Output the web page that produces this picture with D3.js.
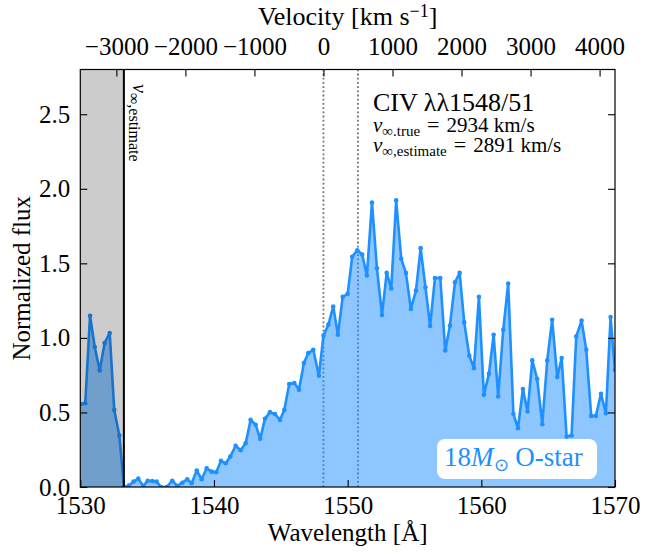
<!DOCTYPE html>
<html>
<head>
<meta charset="utf-8">
<script src="https://cdn.jsdelivr.net/npm/d3@7"></script>
<style>
body { margin: 0; background: #fff; }
svg text { font-family: "Liberation Serif", "Times New Roman", serif; }
</style>
</head>
<body>
<div id="chart"></div>
<script>
// spectrum
var wavelength = [
    1530.03, 1530.37, 1530.73, 1531.08, 1531.45, 1531.82, 1532.20, 1532.54, 1532.92, 1533.27,
    1533.64, 1533.98, 1534.34, 1534.71, 1535.04, 1535.39, 1535.71, 1536.04, 1536.46, 1536.88,
    1537.26, 1537.63, 1538.00, 1538.33, 1538.71, 1539.08, 1539.45, 1539.83, 1540.17, 1540.52,
    1540.88, 1541.22, 1541.62, 1542.00, 1542.37, 1542.74, 1543.12, 1543.46, 1543.81, 1544.19,
    1544.56, 1544.94, 1545.26, 1545.63, 1546.01, 1546.36, 1546.73, 1547.05, 1547.43, 1547.85,
    1548.19, 1548.56, 1548.92, 1549.27, 1549.63, 1550.00, 1550.34, 1550.72, 1551.09, 1551.44,
    1551.82, 1552.19, 1552.57, 1552.92, 1553.26, 1553.63, 1554.01, 1554.36, 1554.73, 1555.11,
    1555.46, 1555.82, 1556.17, 1556.53, 1556.93, 1557.30, 1557.65, 1558.03, 1558.38, 1558.72,
    1559.10, 1559.45, 1559.82, 1560.19, 1560.57, 1560.92, 1561.26, 1561.64, 1562.01, 1562.40,
    1562.74, 1563.11, 1563.46, 1563.81, 1564.18, 1564.56, 1564.93, 1565.30, 1565.68, 1566.01,
    1566.38, 1566.75, 1567.10, 1567.50, 1567.85, 1568.22, 1568.57, 1568.95, 1569.32, 1569.67,
    1569.99
];
var flux = [
    0.556, 0.562, 1.149, 0.939, 0.782, 0.966, 1.033, 0.517, 0.345, 0.0,
    0.01, 0.036, 0.056, 0.007, 0.042, 0.04, 0.036, 0.0, 0.0, 0.042,
    0.007, 0.029, 0.052, 0.025, 0.11, 0.052, 0.126, 0.103, 0.099, 0.175,
    0.159, 0.204, 0.276, 0.247, 0.294, 0.45, 0.417, 0.323, 0.457, 0.502,
    0.49, 0.45, 0.517, 0.69, 0.697, 0.652, 0.831, 0.898, 0.92, 0.746,
    1.015, 1.089, 1.21, 1.021, 1.275, 1.295, 1.544, 1.588, 1.559, 1.418,
    1.907, 1.467, 1.154, 1.436, 1.331, 1.922, 1.53, 1.436, 1.194, 1.317,
    1.602, 1.34, 1.08, 1.402, 1.402, 0.916, 1.082, 1.373, 1.436, 1.104,
    0.88, 0.797, 1.275, 0.618, 0.759, 1.021, 0.607, 1.055, 1.364, 0.49,
    0.394, 0.657, 0.506, 0.849, 0.724, 0.421, 0.849, 1.122, 0.737, 0.865,
    0.338, 0.345, 1.01, 1.116, 0.92, 0.477, 0.477, 0.625, 0.495, 1.14,
    0.786
];
var xTicks = [1530, 1540, 1550, 1560, 1570];
var yTicks = [0, 0.5, 1.0, 1.5, 2.0, 2.5];
var velocityTicks = [-3000, -2000, -1000, 0, 1000, 2000, 3000, 4000];
var restWavelengths = [1548.19, 1550.77];
var vInfTrue = 2934;
var vInfEstimate = 2891;

var width = 665, height = 555;
var margin = {top: 69.5, right: 50, bottom: 68, left: 80.3};
var lightSpeed = 299792.458;
var blue = "#1e90ff";
var serif = "'Liberation Serif', 'Times New Roman', serif";

var points = wavelength.map(function(w, i){ return {w: w, f: flux[i]}; });

var x = d3.scaleLinear().domain([1530, 1570]).range([margin.left, width - margin.right]);
var y = d3.scaleLinear().domain([0, 2.8]).range([height - margin.bottom, margin.top]);

function toVelocity(w){ return lightSpeed * (w - restWavelengths[0]) / restWavelengths[0]; }
var xv = d3.scaleLinear()
    .domain(x.domain().map(toVelocity))
    .range(x.range());

var vEstWave = restWavelengths[0] * (1 - vInfEstimate / lightSpeed);

var svg = d3.select("#chart").append("svg")
    .attr("width", width)
    .attr("height", height)
    .attr("font-family", serif);

svg.append("clipPath").attr("id", "plotClip")
    .append("rect")
    .attr("x", x(1530)).attr("y", y(2.8))
    .attr("width", x(1570) - x(1530))
    .attr("height", y(0) - y(2.8));

var plot = svg.append("g").attr("clip-path", "url(#plotClip)");

// rest wavelengths of the doublet
plot.selectAll(".rest").data(restWavelengths).enter()
    .append("line")
    .attr("x1", function(d){ return x(d); })
    .attr("x2", function(d){ return x(d); })
    .attr("y1", y(0)).attr("y2", y(2.8))
    .attr("stroke", "#707070")
    .attr("stroke-width", 1.8)
    .attr("stroke-dasharray", "1.8,2.4");

var area = d3.area()
    .x(function(d){ return x(d.w); })
    .y0(y(0))
    .y1(function(d){ return y(d.f); });

var line = d3.line()
    .x(function(d){ return x(d.w); })
    .y(function(d){ return y(d.f); });

plot.append("path").datum(points)
    .attr("d", area)
    .attr("fill", blue)
    .attr("fill-opacity", 0.5);

plot.append("path").datum(points)
    .attr("d", line)
    .attr("fill", "none")
    .attr("stroke", blue)
    .attr("stroke-width", 2.6)
    .attr("stroke-linejoin", "round");

plot.selectAll(".pt").data(points).enter()
    .append("circle")
    .attr("cx", function(d){ return x(d.w); })
    .attr("cy", function(d){ return y(d.f); })
    .attr("r", 2.3)
    .attr("fill", blue);

// region beyond v_inf estimate
plot.append("rect")
    .attr("x", x(1530))
    .attr("y", y(2.8))
    .attr("width", x(vEstWave) - x(1530))
    .attr("height", y(0) - y(2.8))
    .attr("fill", "#000")
    .attr("fill-opacity", 0.2);

plot.append("line")
    .attr("x1", x(vEstWave)).attr("x2", x(vEstWave))
    .attr("y1", y(0)).attr("y2", y(2.8))
    .attr("stroke", "#000")
    .attr("stroke-width", 2);

// axes, ticks inward
var tickFont = 25;
function styleAxis(g){
    g.attr("font-family", serif);
    g.select(".domain").remove();
    g.selectAll(".tick line").attr("stroke", "#000").attr("stroke-width", 1.1);
    g.selectAll(".tick text").attr("font-size", tickFont).attr("fill", "#000")
        .attr("font-family", serif);
}

svg.append("g")
    .attr("transform", "translate(0," + y(0) + ")")
    .call(d3.axisBottom(x).tickValues(xTicks).tickSizeInner(-7).tickPadding(9)
        .tickFormat(d3.format("d")))
    .call(styleAxis);

svg.append("g")
    .attr("transform", "translate(" + x(1530) + ",0)")
    .call(d3.axisLeft(y).tickValues(yTicks).tickSizeInner(-7).tickPadding(10)
        .tickFormat(d3.format(".1f")))
    .call(styleAxis);

svg.append("g")
    .attr("transform", "translate(" + x(1570) + ",0)")
    .call(d3.axisRight(y).tickValues(yTicks).tickSizeInner(-7).tickFormat(""))
    .call(styleAxis);

svg.append("g")
    .attr("transform", "translate(0," + y(2.8) + ")")
    .call(d3.axisTop(xv).tickValues(velocityTicks).tickSizeInner(-7).tickPadding(15)
        .tickFormat(function(d){ return d < 0 ? "\u2212" + Math.abs(d) : d; }))
    .call(styleAxis);

// spines
svg.append("rect")
    .attr("x", x(1530)).attr("y", y(2.8))
    .attr("width", x(1570) - x(1530))
    .attr("height", y(0) - y(2.8))
    .attr("fill", "none")
    .attr("stroke", "#000")
    .attr("stroke-width", 1.2);

// axis labels
svg.append("text")
    .attr("x", (x(1530) + x(1570)) / 2)
    .attr("y", 541)
    .attr("text-anchor", "middle")
    .attr("font-size", 25)
    .text("Wavelength [Å]");

svg.append("text")
    .attr("transform", "translate(30," + (y(0) + y(2.8)) / 2 + ") rotate(-90)")
    .attr("text-anchor", "middle")
    .attr("font-size", 25)
    .text("Normalized flux");

var vTitle = svg.append("text")
    .attr("x", (x(1530) + x(1570)) / 2)
    .attr("y", 25)
    .attr("text-anchor", "middle")
    .attr("font-size", 26);
vTitle.append("tspan").text("Velocity [km s");
vTitle.append("tspan").attr("font-size", 18).attr("dy", -8).text("\u22121");
vTitle.append("tspan").attr("dy", 8).text("]");

// line annotation
svg.append("text")
    .attr("x", 373).attr("y", 111)
    .attr("font-size", 26)
    .text("CIV λλ1548/51");

function velocityLine(yPos, sub, value){
    var t = svg.append("text").attr("x", 373).attr("y", yPos).attr("font-size", 21);
    t.append("tspan").attr("font-style", "italic").text("v");
    t.append("tspan").attr("font-size", 15).attr("dy", 4).text("∞" + sub);
    t.append("tspan").attr("font-size", 22).attr("dy", -4).attr("dx", 7).text("=");
    t.append("tspan").attr("dx", 7).text(value + " km/s");
}
velocityLine(132, ".true", vInfTrue);
velocityLine(152, ",estimate", vInfEstimate);

// rotated label next to v_inf line
var rot = svg.append("text")
    .attr("transform", "translate(" + (x(vEstWave) + 9) + ",84) rotate(90)")
    .attr("font-size", 20);
rot.append("tspan").attr("font-style", "italic").text("v");
rot.append("tspan").attr("font-size", 16).attr("dy", 4).text("∞,estimate");

// star label
svg.append("rect")
    .attr("x", 437).attr("y", 439)
    .attr("width", 160).attr("height", 40)
    .attr("rx", 8)
    .attr("fill", "#fff");
var star = svg.append("text")
    .attr("x", 444).attr("y", 466)
    .attr("font-size", 27)
    .attr("fill", blue);
star.append("tspan").text("18");
star.append("tspan").attr("font-style", "italic").text("M");
star.append("tspan").attr("font-size", 18).attr("dy", 5).text("⊙");
star.append("tspan").attr("dy", -5).text(" O-star");
</script>
</body>
</html>
